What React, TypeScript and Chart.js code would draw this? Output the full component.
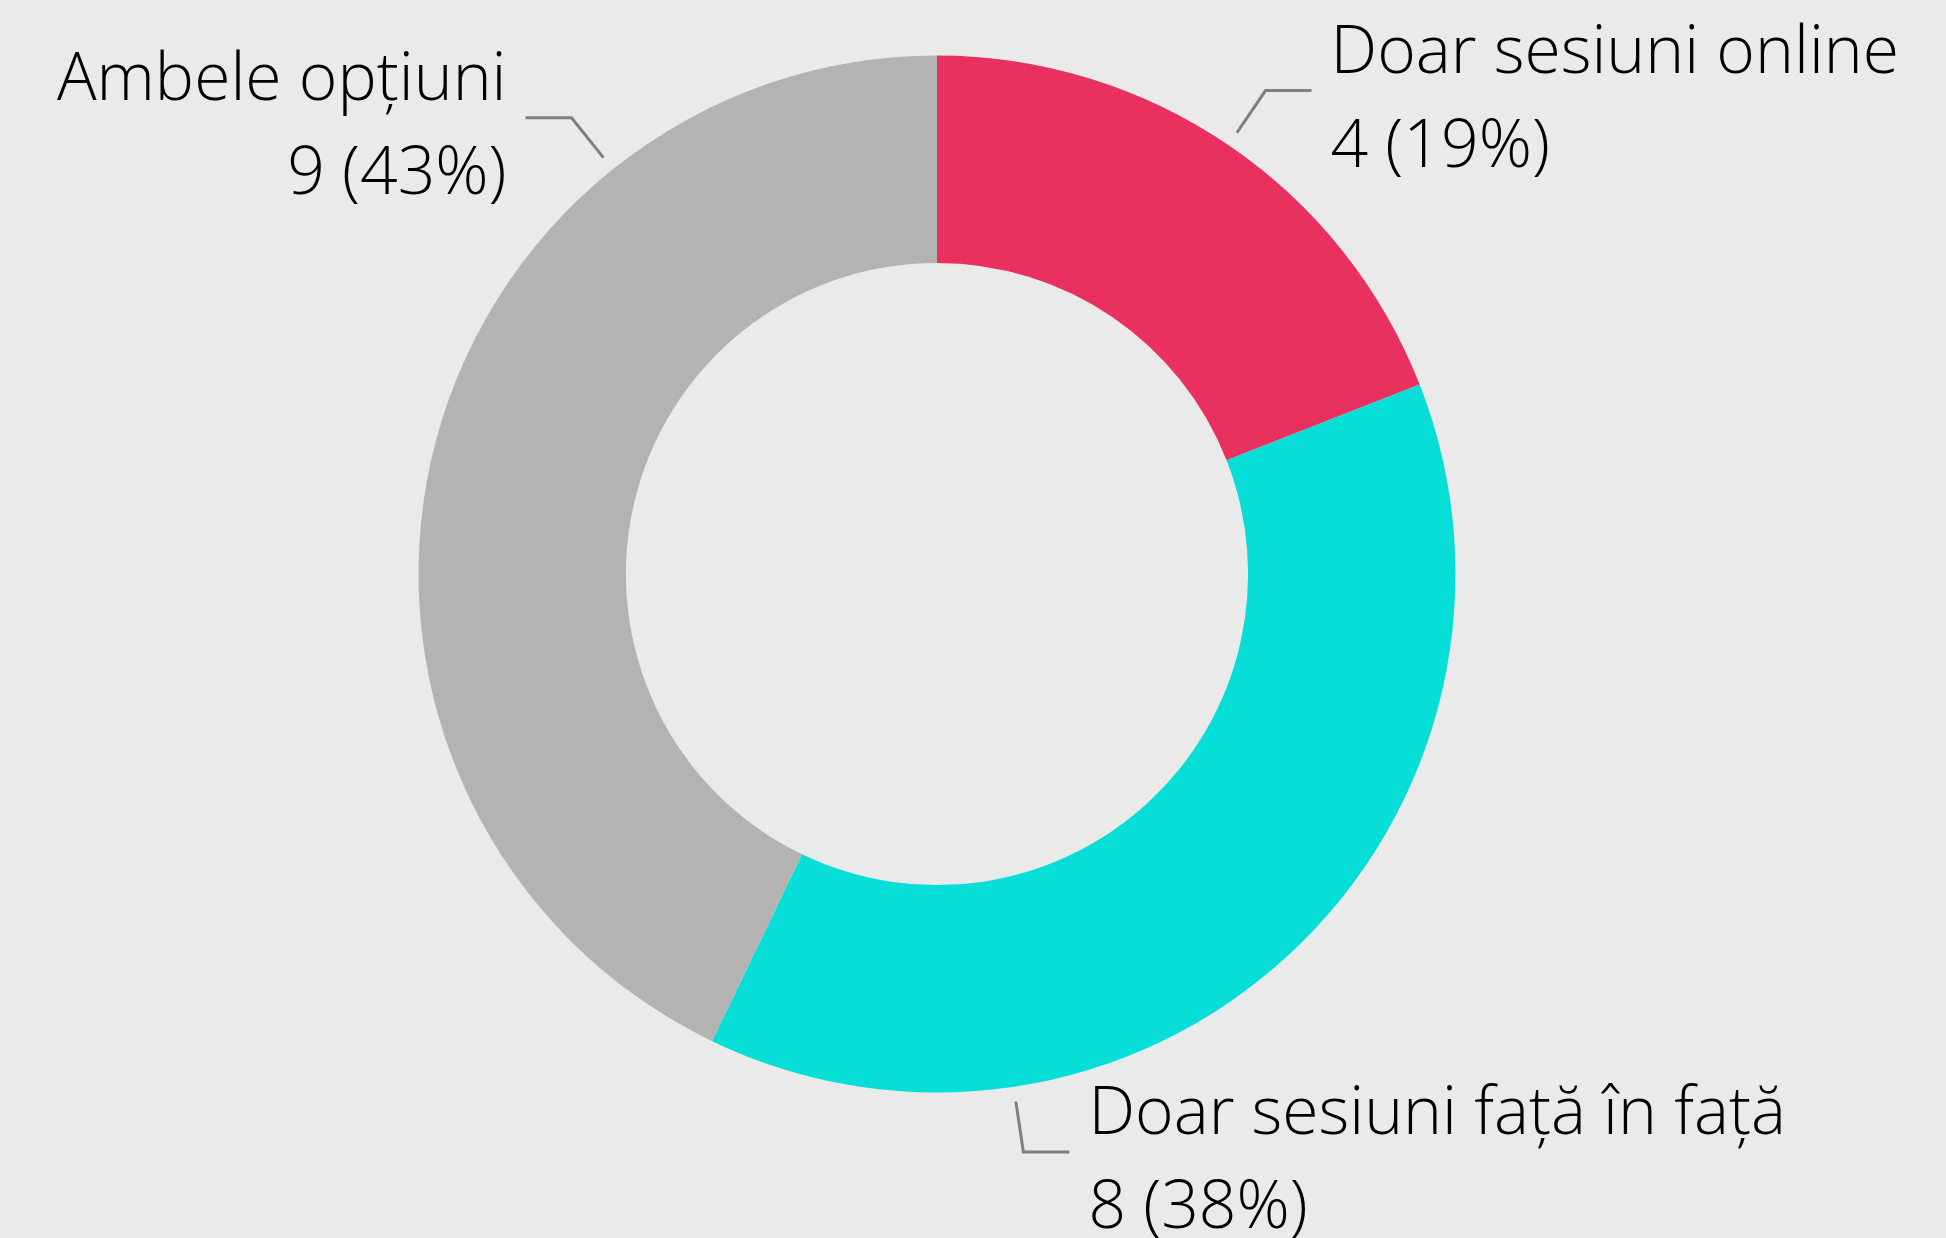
import React, { useEffect, useRef } from "react";
import { Chart, registerables } from "chart.js";

Chart.register(...registerables);

const categories = ["Doar sesiuni online", "Doar sesiuni față în față", "Ambele opțiuni"];
const values = [4, 8, 9];
const colors = ["#E8315E", "#07DED7", "#B3B3B3"];
// angle (degrees, canvas convention) at which each leader line leaves the ring
const labelAngles = [-55.8, 81.5, 231.3];

const FONT = "300 66px 'Open Sans', 'Segoe UI', sans-serif";

const leaderPlugin = {
  id: "leaderLabels",
  afterDatasetsDraw(chart: any) {
    const meta = chart.getDatasetMeta(0);
    const arc = meta.data[0];
    if (!arc) return;
    const { x: cx, y: cy, outerRadius } = arc.getProps(["x", "y", "outerRadius"], true);
    const ctx = chart.ctx;
    const total = values.reduce((a, b) => a + b, 0);
    ctx.save();
    labelAngles.forEach((deg, i) => {
      const a = (deg * Math.PI) / 180;
      const r1 = outerRadius + 15;
      const r2 = outerRadius + 66;
      const x1 = cx + r1 * Math.cos(a);
      const y1 = cy + r1 * Math.sin(a);
      const x2 = cx + r2 * Math.cos(a);
      const y2 = cy + r2 * Math.sin(a);
      const side = Math.cos(a) >= 0 ? 1 : -1;
      const x3 = x2 + side * 46;
      ctx.strokeStyle = "#7F7F7F";
      ctx.lineWidth = 3;
      ctx.beginPath();
      ctx.moveTo(x1, y1);
      ctx.lineTo(x2, y2);
      ctx.lineTo(x3, y2);
      ctx.stroke();
      const tx = x3 + side * 19;
      ctx.fillStyle = "#000000";
      ctx.font = FONT;
      ctx.textAlign = side > 0 ? "left" : "right";
      ctx.textBaseline = "alphabetic";
      const pct = Math.round((values[i] / total) * 100);
      ctx.fillText(categories[i], tx, y2 - 18);
      ctx.fillText(`${values[i]} (${pct}%)`, tx, y2 + 76);
    });
    ctx.restore();
  },
};

export default function App() {
  const ref = useRef<HTMLCanvasElement>(null);
  useEffect(() => {
    document.body.style.margin = "0";
    document.body.style.background = "#EAEAEA";
    const chart = new Chart(ref.current!, {
      type: "doughnut",
      data: {
        labels: categories,
        datasets: [
          {
            data: values,
            backgroundColor: colors,
            borderWidth: 0,
          },
        ],
      },
      options: {
        responsive: false,
        animation: false,
        cutout: "60%",
        layout: { padding: { top: 55.5, bottom: 145.5, left: 0, right: 72 } },
        plugins: {
          legend: { display: false },
          tooltip: { enabled: false },
        },
      },
      plugins: [leaderPlugin],
    });
    return () => chart.destroy();
  }, []);
  return (
    <div style={{ width: 1946, height: 1238, background: "#EAEAEA" }}>
      <canvas ref={ref} width={1946} height={1238} style={{ display: "block" }} />
    </div>
  );
}
